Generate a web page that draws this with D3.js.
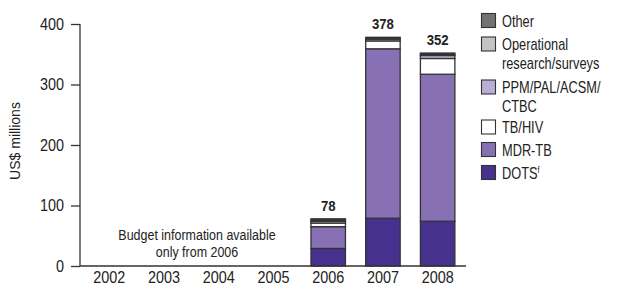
<!DOCTYPE html>
<html><head><meta charset="utf-8">
<script src="https://cdn.jsdelivr.net/npm/d3@7"></script>
<style>
body{margin:0;background:#fff;}
svg text{font-family:"Liberation Sans","Arial",sans-serif;fill:#222;}
</style></head><body>
<svg id="c" width="619" height="286"></svg>
<script>
const years = ["2002","2003","2004","2005","2006","2007","2008"];
const seriesNames = ["DOTS","MDR-TB","TB/HIV","PPM/PAL/ACSM/CTBC","Operational research/surveys","Other"];
const dots  = [0,0,0,0,29,79,74];
const mdr   = [0,0,0,0,36,280,243];
const tbhiv = [0,0,0,0,6,13,26];
const ppm   = [0,0,0,0,3,3,5];
const opres = [0,0,0,0,2,1,2];
const other = [0,0,0,0,2,2,2];
const totals = [null,null,null,null,78,378,352];
const yTicks = [0,100,200,300,400];
const colors = ["#46318f","#8870b5","#ffffff","#b9aed6","#c4c4c4","#727272"];
const legendItems = [
  {name:"Other", lines:["Other"], color:"#727272"},
  {name:"Operational research/surveys", lines:["Operational","research/surveys"], color:"#c4c4c4"},
  {name:"PPM/PAL/ACSM/CTBC", lines:["PPM/PAL/ACSM/","CTBC"], color:"#b9aed6"},
  {name:"TB/HIV", lines:["TB/HIV"], color:"#ffffff"},
  {name:"MDR-TB", lines:["MDR-TB"], color:"#8870b5"},
  {name:"DOTS", lines:["DOTS"], sup:"f", color:"#46318f"}
];

const svg = d3.select("#c");
const x = d3.scaleBand().domain(years).range([82,465]).paddingInner(0.37).paddingOuter(0.185);
const y = d3.scaleLinear().domain([0,400]).range([266,24]);

// narrow a text element horizontally around its x anchor
function squeeze(sel, sx){
  sel.each(function(){
    const t = d3.select(this);
    const x0 = +t.attr("x") || 0, y0 = +t.attr("y") || 0;
    t.attr("x",0).attr("y",0).attr("transform",`translate(${x0},${y0}) scale(${sx},1)`);
  });
}

const table = years.map((yr,i)=>({year:yr, "DOTS":dots[i], "MDR-TB":mdr[i], "TB/HIV":tbhiv[i],
  "PPM/PAL/ACSM/CTBC":ppm[i], "Operational research/surveys":opres[i], "Other":other[i]}));
const stack = d3.stack().keys(seriesNames)(table);

const g = svg.append("g");
stack.forEach((s,k)=>{
  g.selectAll(null).data(s.filter(d=>d[1]-d[0]>0)).enter().append("rect")
    .attr("x",d=>x(d.data.year)).attr("width",x.bandwidth())
    .attr("y",d=>y(d[1])).attr("height",d=>y(d[0])-y(d[1]))
    .attr("fill",colors[k]).attr("stroke","#333").attr("stroke-width",1.3);
});

// totals
const tot = svg.selectAll(".tot").data(years.map((yr,i)=>({yr,t:totals[i]})).filter(d=>d.t!=null)).enter()
  .append("text").attr("x",d=>x(d.yr)+x.bandwidth()/2).attr("y",d=>y(d.t)-8)
  .attr("text-anchor","middle").style("font-weight","bold").style("font-size","15.5px").text(d=>d.t);
squeeze(tot,0.85);

// y axis
const ya = svg.append("g").attr("transform","translate(80,0)")
  .call(d3.axisLeft(y).tickValues(yTicks).tickSize(9).tickPadding(7).tickFormat(d3.format("d")));
ya.selectAll("text").style("font-size","16px").attr("fill","#222")
  .each(function(){ const t=d3.select(this); const x0=+t.attr("x"); t.attr("x",0).attr("transform",`translate(${x0},0) scale(0.9,1)`); });
ya.selectAll("line,path").attr("stroke","#333").attr("stroke-width",1.3);
ya.select(".domain").attr("d","M0,24V266");

// x axis
const xa = svg.append("g").attr("transform","translate(0,266)")
  .call(d3.axisBottom(x).tickSize(0).tickPadding(6));
xa.select(".domain").attr("d","M80,0H466").attr("stroke","#333").attr("stroke-width",1.3);
xa.selectAll("text").style("font-size","16px").attr("fill","#222")
  .each(function(){ const t=d3.select(this); t.attr("transform","scale(0.9,1)"); });

// y label
const yl = svg.append("text").attr("transform","translate(20,141) rotate(-90)").attr("text-anchor","middle")
  .style("font-size","14px").text("US$ millions");

// annotation
const annLines = ["Budget information available","only from 2006"];
const ann = svg.selectAll(".ann").data(annLines).enter().append("text")
  .attr("text-anchor","middle").style("font-size","14.5px")
  .attr("x",197).attr("y",(d,i)=>240+i*17).text(d=>d);
squeeze(ann,0.86);

// legend
const rowsY = [20.5,44,87,127,149.5,172.5];
legendItems.forEach((it,i)=>{
  const cy = rowsY[i];
  svg.append("rect").attr("x",481.5).attr("y",cy-7).attr("width",14).attr("height",14)
    .attr("fill",it.color).attr("stroke","#333").attr("stroke-width",1.1);
  it.lines.forEach((l,j)=>{
    const t = svg.append("text").style("font-size","16px").attr("x",502).attr("y",cy+6+j*18.5);
    t.append("tspan").text(l);
    if(it.sup && j===0) t.append("tspan").attr("dy",-6).style("font-size","9px").text(it.sup);
    squeeze(t,0.8);
  });
});
</script></body></html>
